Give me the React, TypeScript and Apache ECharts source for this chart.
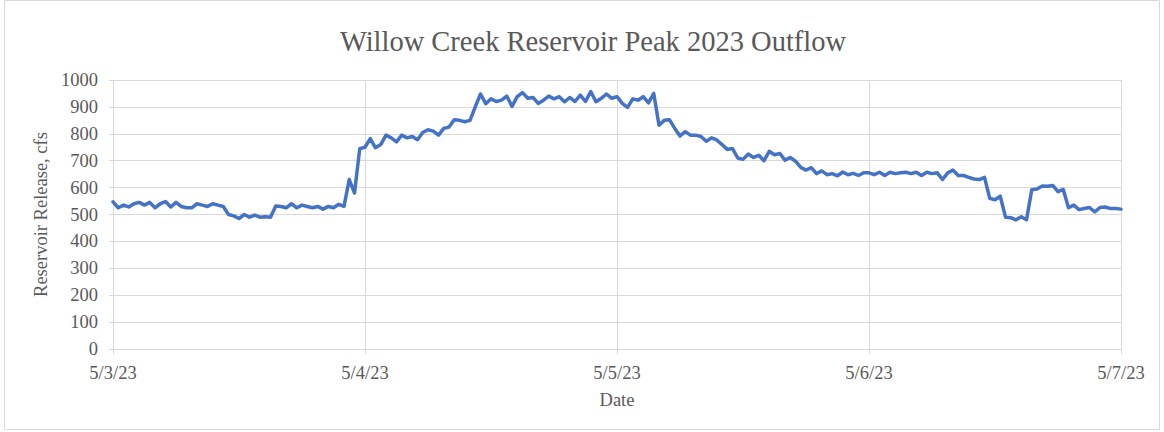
import React, { useEffect, useRef } from "react";
import * as echarts from "echarts";

// Half-hourly reservoir release (cfs), one array per day starting at midnight.
const may3Flow = [
  547, 525, 535, 528, 540, 545, 535, 545, 525, 540,
  548, 528, 545, 530, 525, 525, 540, 535, 530, 540,
  535, 530, 500, 495, 485, 500, 490, 498, 490, 492,
  490, 532, 530, 525, 540, 525, 535, 530, 525, 530,
  520, 530, 525, 538, 530, 630, 580, 745,
];
const may4Flow = [
  750, 782, 748, 760, 795, 785, 770, 795, 785, 790,
  778, 805, 815, 810, 795, 820, 825, 852, 850, 845,
  850, 900, 948, 912, 930, 920, 925, 940, 902, 938,
  953, 932, 935, 913, 925, 940, 930, 938, 919, 935,
  920, 944, 920, 957, 919, 932, 948, 932,
];
const may5Flow = [
  938, 913, 898, 930, 925, 938, 915, 950, 832, 850,
  852, 820, 792, 808, 795, 795, 790, 772, 785, 777,
  760, 742, 745, 710, 705, 725, 712, 720, 700, 735,
  722, 727, 702, 712, 698, 675, 665, 674, 652, 662,
  648, 652, 644, 658, 648, 653, 645, 655,
];
const may6Flow = [
  655, 648, 657, 645, 657, 652, 655, 657, 652, 657,
  645, 657, 652, 655, 630, 655, 665, 645, 645, 638,
  632, 630, 638, 560, 555, 568, 490, 488, 480, 492,
  480, 592, 595, 606, 605, 608, 585, 593, 525, 535,
  518, 522, 526, 510, 526, 528, 522, 522,
];
const may7Flow = [520];

const dateTicks = ["5/3/23", "5/4/23", "5/5/23", "5/6/23", "5/7/23"];
const yTicks = [0, 100, 200, 300, 400, 500, 600, 700, 800, 900, 1000];

const STEP_HOURS = 0.5;
const FONT = "'Liberation Serif', 'DejaVu Serif', serif";
const TEXT = "#595959";
const GRID = "#D9D9D9";

export default function App() {
  const ref = useRef<HTMLDivElement>(null);

  useEffect(() => {
    if (!ref.current) return;
    const chart = echarts.init(ref.current, undefined, { renderer: "svg" });

    const flow = [...may3Flow, ...may4Flow, ...may5Flow, ...may6Flow, ...may7Flow];
    const points = flow.map((v, i) => [i * STEP_HOURS, v]);

    chart.setOption({
      animation: false,
      backgroundColor: "#ffffff",
      textStyle: { fontFamily: FONT },
      title: {
        text: "Willow Creek Reservoir Peak 2023 Outflow",
        left: 588,
        top: 22,
        textAlign: "center",
        textStyle: { fontFamily: FONT, fontSize: 28.5, fontWeight: "normal", color: TEXT },
      },
      graphic: [
        {
          type: "rect",
          shape: { x: 4.5, y: 0.5, width: 1155, height: 429 },
          style: { fill: "none", stroke: GRID, lineWidth: 1 },
          silent: true,
        },
      ],
      grid: { left: 113, right: 43, top: 80, bottom: 83 },
      xAxis: {
        type: "value",
        min: 0,
        max: 96,
        interval: 24,
        name: "Date",
        nameLocation: "middle",
        nameGap: 41,
        nameTextStyle: { fontFamily: FONT, fontSize: 18.5, color: TEXT },
        axisLine: { show: true, lineStyle: { color: GRID, width: 1 } },
        axisTick: { show: true, length: 5, lineStyle: { color: GRID } },
        splitLine: { show: true, lineStyle: { color: GRID, width: 1 } },
        axisLabel: {
          fontFamily: FONT,
          fontSize: 18.5,
          color: TEXT,
          margin: 14,
          formatter: (v: number) => dateTicks[Math.round(v / 24)] ?? "",
        },
      },
      yAxis: {
        type: "value",
        min: yTicks[0],
        max: yTicks[yTicks.length - 1],
        interval: 100,
        name: "Reservoir Release, cfs",
        nameLocation: "middle",
        nameGap: 61,
        nameTextStyle: { fontFamily: FONT, fontSize: 18.5, color: TEXT },
        axisLine: { show: false },
        axisTick: { show: true, length: 4, lineStyle: { color: GRID } },
        splitLine: { show: true, lineStyle: { color: GRID, width: 1 } },
        axisLabel: {
          fontFamily: FONT,
          fontSize: 18.5,
          color: TEXT,
          margin: 15,
          formatter: (v: number) => String(v),
        },
      },
      series: [
        {
          type: "line",
          data: points,
          showSymbol: false,
          symbol: "none",
          lineStyle: { color: "#4472C4", width: 3.5, cap: "round", join: "round" },
          itemStyle: { color: "#4472C4" },
        },
      ],
    });

    return () => chart.dispose();
  }, []);

  return (
    <div
      ref={ref}
      style={{ position: "fixed", left: 0, top: 0, width: 1164, height: 432 }}
    />
  );
}
